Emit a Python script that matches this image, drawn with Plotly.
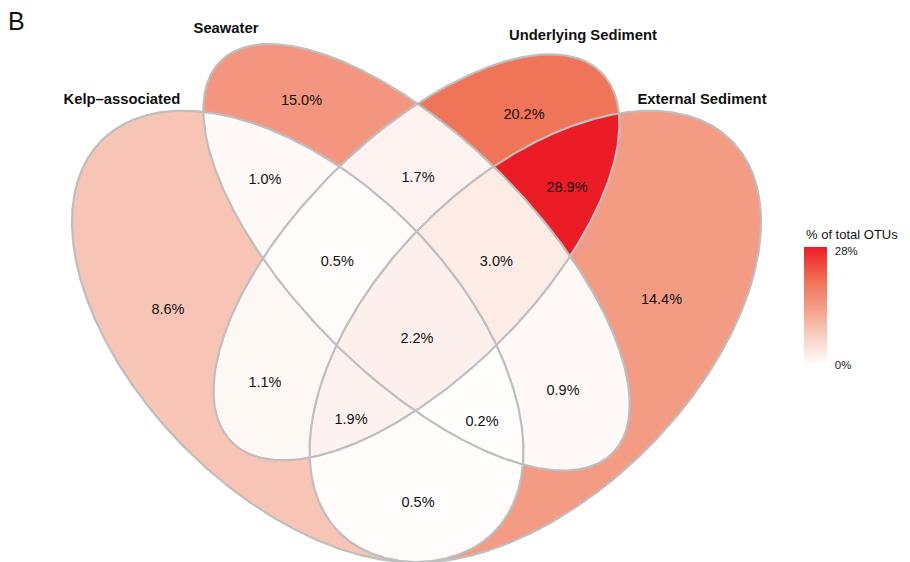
import numpy as np
import plotly.graph_objects as go

# ---- data -------------------------------------------------------------
set_names = ["Kelp–associated", "Seawater", "Underlying Sediment", "External Sediment"]

# region membership (indices into set_names) and share of total OTUs (%)
region_members = [(0,), (1,), (2,), (3,),
                  (0, 1), (0, 2), (0, 3), (1, 2), (1, 3), (2, 3),
                  (0, 1, 2), (0, 1, 3), (0, 2, 3), (1, 2, 3),
                  (0, 1, 2, 3)]
region_pct = [8.6, 15.0, 20.2, 14.4,
              1.0, 1.1, 0.5, 1.7, 0.9, 28.9,
              0.5, 0.2, 1.9, 3.0,
              2.2]

legend_ticks = [0, 5.6, 11.2, 16.8, 22.4, 28]
legend_ticktext = ["0%", "", "", "", "", "28%"]

# ---- four-ellipse layout (centre x, centre y, a, b, rotation in degrees) ----
ell_x = [0.35, 0.50, 0.50, 0.65]
ell_y = [0.47, 0.57, 0.57, 0.47]
ell_a = [0.35, 0.35, 0.33, 0.35]
ell_b = [0.20, 0.15, 0.15, 0.20]
ell_rot = [135, 135, 45, 45]

# text anchors for the region labels (same order as region_members)
region_label_x = [0.1862, 0.3548, 0.6357, 0.8093,
                  0.3087, 0.3087, 0.5019, 0.5019, 0.6850, 0.6900,
                  0.4000, 0.5827, 0.4173, 0.6008,
                  0.5006]
region_label_y = [0.5034, 0.7664, 0.7497, 0.5152,
                  0.6667, 0.4113, 0.2598, 0.6700, 0.4012, 0.6575,
                  0.5637, 0.3620, 0.3646, 0.5641,
                  0.4668]

# set-name label anchors
set_label_x = [0.128, 0.2595, 0.7102, 0.8605]
set_label_y = [0.7686, 0.8582, 0.8494, 0.7686]

# page geometry
W, H = 910, 562
S = 792.0            # pixels per unit
X0_PX, X0 = 416.5, 0.5
Y0_PX, Y0 = 44.0, 0.8393
FONT = "Liberation Sans, Arial, Helvetica, sans-serif"


def boundary(i, n=3000):
    t = np.linspace(0, 2 * np.pi, n)
    th = np.radians(ell_rot[i])
    x = ell_x[i] + ell_a[i] * np.cos(t) * np.cos(th) - ell_b[i] * np.sin(t) * np.sin(th)
    y = ell_y[i] + ell_a[i] * np.cos(t) * np.sin(th) + ell_b[i] * np.sin(t) * np.cos(th)
    return x, y


def inside(i, x, y, tol=1e-9):
    th = np.radians(ell_rot[i])
    dx, dy = x - ell_x[i], y - ell_y[i]
    u = dx * np.cos(th) + dy * np.sin(th)
    v = -dx * np.sin(th) + dy * np.cos(th)
    return (u / ell_a[i]) ** 2 + (v / ell_b[i]) ** 2 <= 1 + tol


def intersection_polygon(members):
    """Convex intersection of the ellipses in `members`."""
    xs, ys = [], []
    for i in members:
        bx, by = boundary(i)
        keep = np.ones_like(bx, dtype=bool)
        for j in members:
            if j != i:
                keep &= inside(j, bx, by, 1e-6)
        xs.append(bx[keep])
        ys.append(by[keep])
    x = np.concatenate(xs)
    y = np.concatenate(ys)
    ang = np.arctan2(y - y.mean(), x - x.mean())
    o = np.argsort(ang)
    return np.append(x[o], x[o][0]), np.append(y[o], y[o][0])


# ---- colour scale: white -> red ------------------------------------------
SCALE_STOPS = [(0.00, (255, 255, 255)),
               (0.30, (248, 196, 180)),
               (0.52, (244, 150, 127)),
               (0.70, (240, 117, 88)),
               (1.00, (236, 28, 38))]
VMAX = max(region_pct)


def scale_rgb(t):
    t = min(max(t, 0.0), 1.0)
    for (t0, c0), (t1, c1) in zip(SCALE_STOPS[:-1], SCALE_STOPS[1:]):
        if t <= t1:
            f = (t - t0) / (t1 - t0)
            return tuple(int(round(a + f * (b - a))) for a, b in zip(c0, c1))
    return SCALE_STOPS[-1][1]


def fill_colour(v):
    return "rgb(%d,%d,%d)" % scale_rgb(v / VMAX)


colorscale = [[t, "rgb(%d,%d,%d)" % c] for t, c in SCALE_STOPS]

fig = go.Figure()

# paint intersections from single sets up to the four-way overlap,
# so each pixel ends up with the colour of its exact region
order = sorted(range(len(region_members)), key=lambda k: len(region_members[k]))
for k in order:
    px, py = intersection_polygon(region_members[k])
    fig.add_trace(go.Scatter(x=px, y=py, mode="lines", fill="toself",
                             fillcolor=fill_colour(region_pct[k]),
                             line=dict(width=0), hoverinfo="skip", showlegend=False))

# ellipse outlines
for i in range(4):
    bx, by = boundary(i)
    fig.add_trace(go.Scatter(x=bx, y=by, mode="lines",
                             line=dict(color="#BEBEBE", width=2.2),
                             hoverinfo="skip", showlegend=False))

# region labels
fig.add_trace(go.Scatter(x=region_label_x, y=region_label_y, mode="text",
                         text=[f"{v:.1f}%" for v in region_pct],
                         textfont=dict(family=FONT, size=14.5, color="#111"),
                         hoverinfo="skip", showlegend=False))

# set names
fig.add_trace(go.Scatter(x=set_label_x, y=set_label_y, mode="text", text=set_names,
                         textfont=dict(family=FONT, size=14.8, color="#111", weight="bold"),
                         hoverinfo="skip", showlegend=False))

# colour bar
BAR_TOP, BAR_BOT, BAR_LEFT, BAR_W = 247, 365, 804, 23
fig.add_trace(go.Scatter(
    x=[None], y=[None], mode="markers", hoverinfo="skip", showlegend=False,
    marker=dict(color=[0], cmin=0, cmax=VMAX, colorscale=colorscale, showscale=True,
                colorbar=dict(thickness=BAR_W, thicknessmode="pixels",
                              len=BAR_BOT - BAR_TOP, lenmode="pixels",
                              x=BAR_LEFT / W, xanchor="left", xpad=0,
                              y=1 - BAR_TOP / H, yanchor="top", ypad=0,
                              outlinewidth=0, tickmode="array",
                              tickvals=legend_ticks, ticktext=legend_ticktext,
                              ticks="outside", ticklen=6, tickcolor="rgba(0,0,0,0)",
                              tickfont=dict(family=FONT, size=11.5, color="#222")))))

# white tick marks on both edges of the bar
for v in legend_ticks:
    yp = 1 - (BAR_BOT - v / VMAX * (BAR_BOT - BAR_TOP)) / H
    for xa, xb in ((BAR_LEFT, BAR_LEFT + 5), (BAR_LEFT + BAR_W - 5, BAR_LEFT + BAR_W)):
        fig.add_shape(type="line", xref="paper", yref="paper",
                      x0=xa / W, x1=xb / W, y0=yp, y1=yp,
                      line=dict(color="white", width=1))

fig.add_annotation(text="% of total OTUs", xref="paper", yref="paper",
                   x=BAR_LEFT / W, y=1 - 235 / H, xanchor="left", yanchor="middle",
                   showarrow=False, font=dict(family=FONT, size=13, color="#111"))
fig.add_annotation(text="B", xref="paper", yref="paper",
                   x=6 / W, y=1 - 21 / H, xanchor="left", yanchor="middle",
                   showarrow=False, font=dict(family=FONT, size=25, color="#111"))

fig.update_layout(
    width=W, height=H, autosize=False,
    margin=dict(l=0, r=0, t=0, b=0),
    paper_bgcolor="white", plot_bgcolor="white",
    xaxis=dict(range=[X0 - X0_PX / S, X0 + (W - X0_PX) / S], visible=False, fixedrange=True),
    yaxis=dict(range=[Y0 - (H - Y0_PX) / S, Y0 + Y0_PX / S], visible=False, fixedrange=True),
)

fig.write_html("out.html")
